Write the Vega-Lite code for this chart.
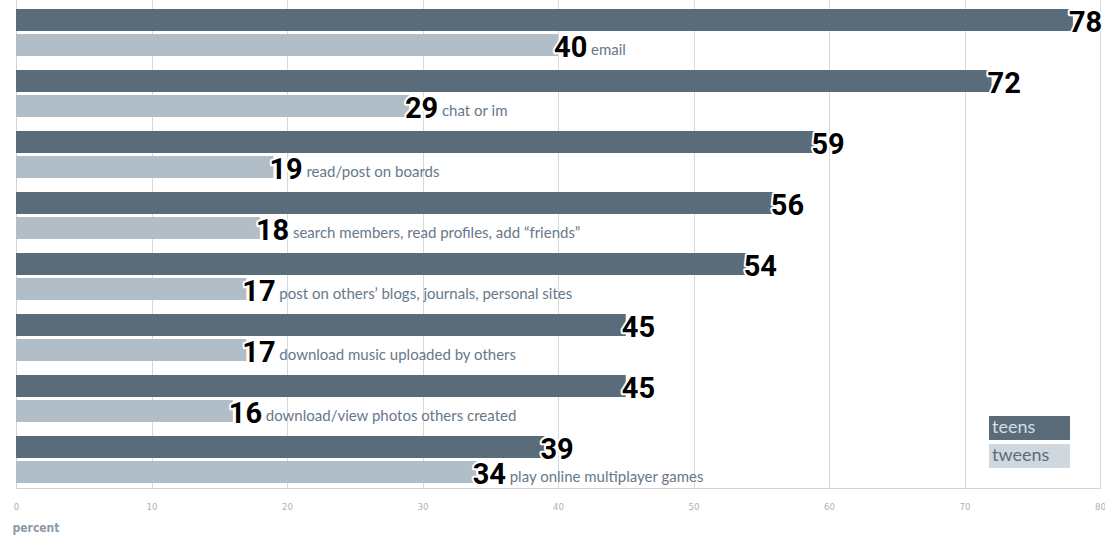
{
  "$schema": "https://vega.github.io/schema/vega-lite/v6.json",
  "autosize": {"type": "none"},
  "width": 1084,
  "height": 488,
  "padding": {"left": 16, "top": 0, "right": 5, "bottom": 50},
  "background": "#ffffff",
  "config": {"view": {"stroke": null}},
  "data": {"values": [
    {"cat": "email", "group": "teens", "value": 78},
    {"cat": "email", "group": "tweens", "value": 40},
    {"cat": "chat or im", "group": "teens", "value": 72},
    {"cat": "chat or im", "group": "tweens", "value": 29},
    {"cat": "read/post on boards", "group": "teens", "value": 59},
    {"cat": "read/post on boards", "group": "tweens", "value": 19},
    {"cat": "search members, read profiles, add “friends”", "group": "teens", "value": 56},
    {"cat": "search members, read profiles, add “friends”", "group": "tweens", "value": 18},
    {"cat": "post on others’ blogs, journals, personal sites", "group": "teens", "value": 54},
    {"cat": "post on others’ blogs, journals, personal sites", "group": "tweens", "value": 17},
    {"cat": "download music uploaded by others", "group": "teens", "value": 45},
    {"cat": "download music uploaded by others", "group": "tweens", "value": 17},
    {"cat": "download/view photos others created", "group": "teens", "value": 45},
    {"cat": "download/view photos others created", "group": "tweens", "value": 16},
    {"cat": "play online multiplayer games", "group": "teens", "value": 39},
    {"cat": "play online multiplayer games", "group": "tweens", "value": 34}
  ]},
  "encoding": {
    "y": {
      "field": "cat", "type": "nominal", "sort": null,
      "scale": {"paddingInner": 0, "paddingOuter": 0},
      "axis": {"title": null, "labels": false, "ticks": false, "grid": false, "domain": true, "domainColor": "#d3d3d3", "domainWidth": 1}
    },
    "yOffset": {
      "field": "group", "type": "nominal",
      "scale": {"domain": ["teens", "tweens"], "paddingInner": 0.12, "paddingOuter": 0.28, "align": 0.643}
    },
    "x": {
      "field": "value", "type": "quantitative",
      "scale": {"domain": [0, 80], "nice": false},
      "axis": {
        "values": [0, 10, 20, 30, 40, 50, 60, 70, 80],
        "grid": true, "gridColor": "#d9d9d9", "gridWidth": 1,
        "ticks": false, "domain": true, "domainColor": "#d3d3d3",
        "labelPadding": 13, "labelFontSize": 9.5, "labelFont": "DejaVu Sans Condensed, sans-serif",
        "labelColor": "#a7b2bc", "labelFlush": false,
        "title": "percent", "titleAnchor": "start", "titleAlign": "left", "titleX": -4, "titleY": 43,
        "titleBaseline": "alphabetic", "titleFontSize": 12, "titleFontWeight": "bold",
        "titleFont": "DejaVu Sans Condensed, sans-serif", "titleColor": "#8a9aa7"
      }
    }
  },
  "layer": [
    {
      "mark": {"type": "bar", "opacity": 0},
      "encoding": {
        "color": {
          "field": "group", "type": "nominal",
          "scale": {"domain": ["teens", "tweens"], "range": ["#5a6c7a", "#d0d8de"]},
          "legend": {
            "orient": "none", "legendX": 973, "legendY": 416, "title": null,
            "symbolType": "M-1,-1H5.75V1H-1Z", "symbolSize": 576, "symbolStrokeWidth": 0,
            "symbolOpacity": 1,
            "labelColor": {"expr": "datum.value === 'teens' ? '#d6dde3' : '#5a6c7a'"},
            "labelOffset": -21, "labelFontSize": 18, "labelFont": "Lato", "rowPadding": 4
          }
        }
      }
    },
    {
      "mark": {"type": "bar"},
      "encoding": {
        "fill": {
          "field": "group", "type": "nominal",
          "scale": {"domain": ["teens", "tweens"], "range": ["#5a6c7a", "#b1bdc7"]},
          "legend": null
        }
      }
    },
    {
      "mark": {"type": "text", "align": "left", "baseline": "alphabetic", "dx": -4, "dy": 12, "fontSize": 29, "font": "Roboto", "fontWeight": "bold", "fill": "#ffffff", "stroke": "#ffffff", "strokeWidth": 4, "strokeJoin": "round"},
      "encoding": {"text": {"field": "value", "type": "quantitative"}}
    },
    {
      "mark": {"type": "text", "align": "left", "baseline": "alphabetic", "dx": -4, "dy": 12, "fontSize": 29, "font": "Roboto", "fontWeight": "bold", "fill": "#000000"},
      "encoding": {"text": {"field": "value", "type": "quantitative"}}
    },
    {
      "transform": [{"filter": "datum.group === 'tweens'"}],
      "mark": {"type": "text", "align": "left", "baseline": "alphabetic", "dx": 33, "dy": 9.5, "fontSize": 15, "font": "Lato", "fill": "#67788a"},
      "encoding": {"text": {"field": "cat", "type": "nominal"}}
    }
  ]
}
